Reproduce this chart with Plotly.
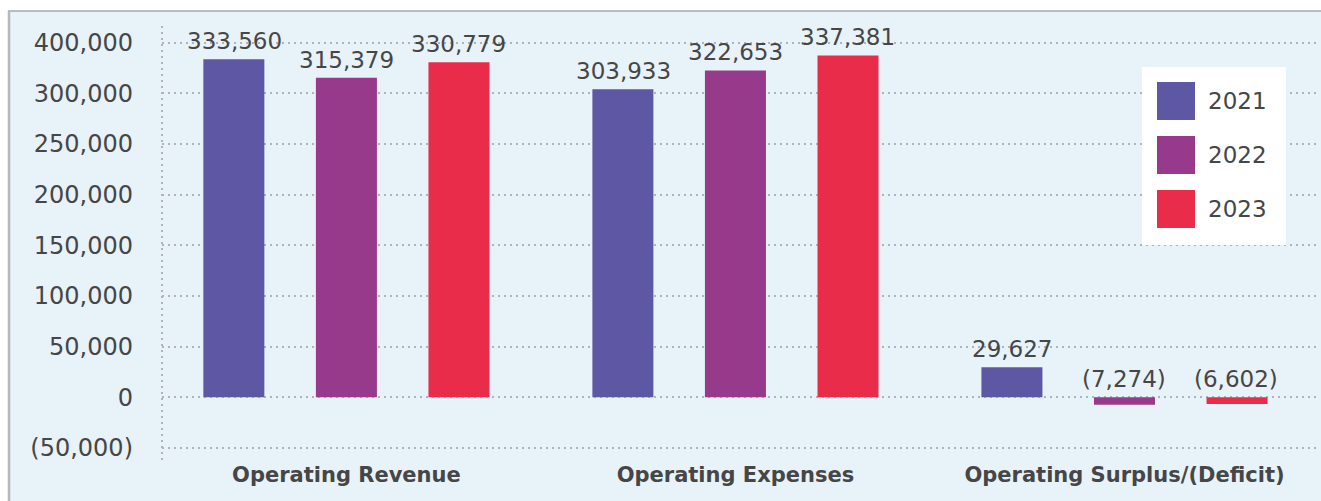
import plotly.graph_objects as go

# chart data
categories = ["Operating Revenue", "Operating Expenses", "Operating Surplus/(Deficit)"]
years = ["2021", "2022", "2023"]
values_2021 = [333560, 303933, 29627]
values_2022 = [315379, 322653, -7274]
values_2023 = [330779, 337381, -6602]
colors = ["#5E57A4", "#973A8B", "#E82C4A"]

y_tick_values = [-50000, 0, 50000, 100000, 150000, 200000, 250000, 300000, 350000]
y_tick_labels = ["(50,000)", "0", "50,000", "100,000", "150,000", "200,000",
                 "250,000", "300,000", "400,000"]

series = [values_2021, values_2022, values_2023]

W, H = 1321, 501
ML, MR, MT, MB = 162, 2, 24, 41
TEXT = "#464646"
GRID = "#B2B2BA"
FONT = "DejaVu Sans"


def fmt(v):
    s = f"{abs(v):,}"
    return f"({s})" if v < 0 else s


def px_x(p):
    return (p - ML) / (W - ML - MR)


def px_y(p):
    return (H - MB - p) / (H - MT - MB)


fig = go.Figure()

for name, vals, col in zip(years, series, colors):
    fig.add_trace(go.Bar(x=categories, y=vals, name=name, marker_color=col,
                         marker_line_width=0, showlegend=False))

# value labels above each bar (negatives sit above the zero line)
offsets = [-112, 0, 112]
for vals, off in zip(series, offsets):
    for cat, v in zip(categories, vals):
        fig.add_annotation(x=cat, y=max(v, 0), text=fmt(v), showarrow=False,
                           xshift=off, yshift=3, yanchor="bottom",
                           font=dict(size=23, color=TEXT, family=FONT))

shapes = [
    # panel background and border
    dict(type="rect", xref="paper", yref="paper", x0=px_x(8), x1=px_x(1330),
         y0=px_y(510), y1=px_y(11), fillcolor="#E8F2F9", line_width=0, layer="below"),
    dict(type="line", xref="paper", yref="paper", x0=px_x(8), x1=px_x(1330),
         y0=px_y(11), y1=px_y(11), line=dict(color="#A8A8A8", width=1.5), layer="below"),
    dict(type="line", xref="paper", yref="paper", x0=px_x(9), x1=px_x(9),
         y0=px_y(11), y1=px_y(510), line=dict(color="#B8B8B8", width=2.5), layer="below"),
    # dotted y axis line
    dict(type="line", xref="paper", yref="paper", x0=0, x1=0, y0=0, y1=1,
         line=dict(color=GRID, width=2, dash="2px,4px"), layer="below"),
    # legend box
    dict(type="rect", xref="paper", yref="paper", x0=px_x(1142), x1=px_x(1286),
         y0=px_y(245), y1=px_y(67), fillcolor="white", line_width=0, layer="above"),
]
for i, (name, col) in enumerate(zip(years, colors)):
    top = 82 + i * 54
    shapes.append(dict(type="rect", xref="paper", yref="paper", x0=px_x(1157), x1=px_x(1195),
                       y0=px_y(top + 38), y1=px_y(top), fillcolor=col, line_width=0,
                       layer="above"))
    fig.add_annotation(xref="paper", yref="paper", x=px_x(1206), y=px_y(top + 19),
                       text=name, showarrow=False, xanchor="left", yanchor="middle",
                       font=dict(size=23, color=TEXT, family=FONT))

fig.update_layout(
    width=W, height=H,
    margin=dict(l=ML, r=MR, t=MT, b=MB),
    paper_bgcolor="white",
    plot_bgcolor="rgba(0,0,0,0)",
    barmode="group",
    bargap=0.132,
    bargroupgap=0.458,
    shapes=shapes,
    font=dict(family=FONT, color=TEXT),
    xaxis=dict(range=[-0.474, 2.5], showgrid=False, showline=False, ticks="",
               tickfont=dict(size=21, family=FONT, color=TEXT, weight="bold")),
    yaxis=dict(range=[-61840, 368450], tickvals=y_tick_values, ticktext=y_tick_labels,
               showgrid=True, gridcolor=GRID, griddash="2px,4px", gridwidth=2,
               zeroline=False, showline=False, ticks="", ticklabelstandoff=28,
               tickfont=dict(size=24, family=FONT, color=TEXT)),
)

# drop the default body margin so the figure fills the window
fig.write_html("out.html", config={"displayModeBar": False},
               post_script="document.body.style.margin = '0';")
